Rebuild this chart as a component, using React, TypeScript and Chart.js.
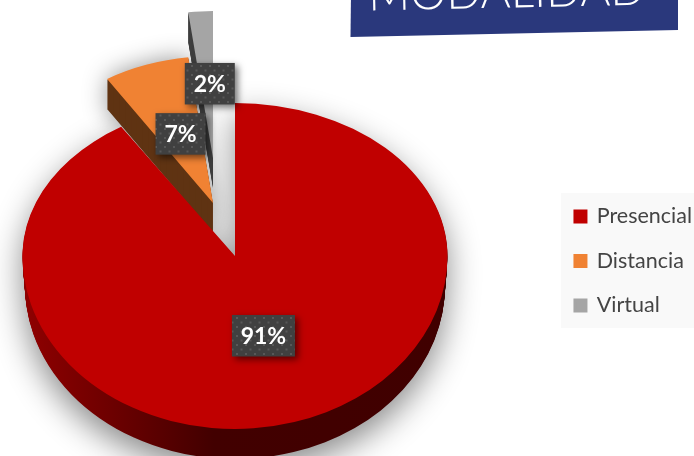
import React, { useEffect, useRef } from "react";
import { Chart, registerables } from "chart.js";

Chart.register(...registerables);

const TITLE = "MODALIDAD";
const categories = ["Presencial", "Distancia", "Virtual"];
const shares = [91, 7, 2];
const sliceColors = ["#C00000", "#F08233", "#A5A5A5"];
const wallColors = ["#400000", "#5F3312", "#3F3F3F"];

const FONT = "Lato, Carlito, sans-serif";
const CX = 235;
const CY = 256;
const RX = 212.5;
const SY_BACK = 0.72;
const SY_FRONT = 0.814;
const DEPTH = 30;
const FAR_X = 0.93;
const FAR_Y = 0.96;
const explode: [number, number][] = [[0, 0], [-22, -53], [-22, -98]];
const labelNudge: [number, number][] = [[0, 0], [1, 0], [3, -1]];

function paint(el: any, ctx: CanvasRenderingContext2D, color: any) {
  const o = el.options;
  el.options = { ...o, backgroundColor: color };
  el.draw(ctx);
  el.options = o;
}

function place(ctx: CanvasRenderingContext2D, el: any, x: number, y: number, sx: number, sy: number) {
  const k = RX / el.outerRadius;
  ctx.translate(x, y);
  ctx.scale(k * sx, k * sy);
  ctx.translate(-el.x, -el.y);
}

function drawRed(ctx: CanvasRenderingContext2D, el: any, d: number, color: (c: CanvasRenderingContext2D) => any) {
  const sx = 1 - (0.012 * d) / DEPTH;
  for (const back of [true, false]) {
    ctx.save();
    ctx.beginPath();
    if (back) ctx.rect(0, -50, 694, CY + d + 50);
    else ctx.rect(0, CY + d, 694, 456);
    ctx.clip();
    place(ctx, el, CX, CY + d, sx, back ? SY_BACK : SY_FRONT);
    paint(el, ctx, color(ctx));
    ctx.restore();
  }
}

function drawSlice(ctx: CanvasRenderingContext2D, el: any, i: number, d: number, color: any) {
  ctx.save();
  place(ctx, el, CX + explode[i][0], CY + explode[i][1] + d, FAR_X, SY_BACK * FAR_Y);
  paint(el, ctx, color);
  ctx.restore();
}

function redWall(el: any) {
  return (c: CanvasRenderingContext2D) => {
    const g = c.createLinearGradient(el.x - el.outerRadius, 0, el.x + el.outerRadius, 0);
    g.addColorStop(0, "#8F0000");
    g.addColorStop(0.2, "#6E0000");
    g.addColorStop(0.45, "#420000");
    g.addColorStop(1, wallColors[0]);
    return g;
  };
}

function dotPattern(ctx: CanvasRenderingContext2D) {
  const t = document.createElement("canvas");
  t.width = 9;
  t.height = 9;
  const c = t.getContext("2d")!;
  c.fillStyle = "#404040";
  c.fillRect(0, 0, 9, 9);
  c.fillStyle = "#585858";
  c.fillRect(2, 2, 2, 2);
  c.fillRect(6.5, 6.5, 2, 2);
  return ctx.createPattern(t, "repeat")!;
}

function castShadow(ctx: CanvasRenderingContext2D, draw: (c: CanvasRenderingContext2D) => void, blur: number, dy: number, alpha: number) {
  const off = document.createElement("canvas");
  off.width = 694;
  off.height = 456;
  draw(off.getContext("2d")!);
  ctx.save();
  ctx.shadowColor = `rgba(0,0,0,${alpha})`;
  ctx.shadowBlur = blur;
  ctx.shadowOffsetX = 2000;
  ctx.shadowOffsetY = dy;
  ctx.drawImage(off, -2000, 0);
  ctx.restore();
}

const scene = {
  id: "scene",
  beforeDraw(chart: any) {
    const ctx = chart.ctx;
    ctx.save();
    ctx.fillStyle = "#F9F9F9";
    ctx.fillRect(561, 193, 133, 135);
    ctx.restore();
  },
  beforeDatasetsDraw(chart: any) {
    const ctx: CanvasRenderingContext2D = chart.ctx;
    const arcs = chart.getDatasetMeta(0).data;

    castShadow(ctx, (oc) => {
      for (let d = DEPTH; d >= 0; d -= 2) drawSlice(oc, arcs[1], 1, d, "#000");
    }, 24, 0, 0.42);
    castShadow(ctx, (oc) => {
      for (let d = DEPTH; d >= 0; d -= 2) drawRed(oc, arcs[0], d, () => "#000");
    }, 32, 12, 0.46);

    for (const i of [2, 1]) {
      for (let d = DEPTH; d >= 1; d--) drawSlice(ctx, arcs[i], i, d, wallColors[i]);
      drawSlice(ctx, arcs[i], i, 0, sliceColors[i]);
    }
    for (let d = DEPTH; d >= 1; d--) drawRed(ctx, arcs[0], d, redWall(arcs[0]));
    drawRed(ctx, arcs[0], 0, () => sliceColors[0]);
    return false;
  },
  afterDraw(chart: any) {
    const ctx: CanvasRenderingContext2D = chart.ctx;
    const arcs = chart.getDatasetMeta(0).data;

    // banner
    ctx.save();
    ctx.fillStyle = "#2A387C";
    ctx.beginPath();
    ctx.moveTo(351, -5);
    ctx.lineTo(678, -5);
    ctx.lineTo(678, 30);
    ctx.lineTo(350.5, 37);
    ctx.closePath();
    ctx.fill();
    ctx.translate(507, 7.5);
    ctx.rotate((-1.2 * Math.PI) / 180);
    ctx.fillStyle = "#FFFFFF";
    ctx.font = `300 46px ${FONT}`;
    ctx.textAlign = "center";
    ctx.textBaseline = "alphabetic";
    ctx.fillText(TITLE, 0, 0);
    ctx.restore();

    // value labels
    const pat = dotPattern(ctx);
    [1, 2, 0].forEach((i) => {
      const el = arcs[i];
      const mid = (el.startAngle + el.endAngle) / 2;
      const frac = i === 0 ? 0.48 : 0.5;
      const sx = i === 0 ? 1 : FAR_X;
      const sy = i === 0 ? SY_FRONT : SY_BACK * FAR_Y;
      const x = CX + explode[i][0] + labelNudge[i][0] + Math.cos(mid) * RX * frac * sx;
      const y = CY + explode[i][1] + labelNudge[i][1] + Math.sin(mid) * RX * frac * sy;
      const text = `${shares[i]}%`;
      ctx.save();
      ctx.font = `bold 23px ${FONT}`;
      const w = i === 0 ? 63 : 50;
      const h = 41.5;
      ctx.shadowColor = "rgba(0,0,0,0.55)";
      ctx.shadowBlur = 7;
      ctx.shadowOffsetX = 3;
      ctx.shadowOffsetY = 3;
      ctx.fillStyle = pat;
      ctx.fillRect(x - w / 2, y - h / 2, w, h);
      ctx.shadowColor = "transparent";
      ctx.fillStyle = "#FFFFFF";
      ctx.textAlign = "center";
      ctx.textBaseline = "middle";
      ctx.fillText(text, x, y + 1);
      ctx.restore();
    });
  },
};

export default function App() {
  const ref = useRef<HTMLCanvasElement>(null);
  useEffect(() => {
    document.body.style.margin = "0";
    document.body.style.overflow = "hidden";
    const chart = new Chart(ref.current!, {
      type: "pie",
      data: {
        labels: categories,
        datasets: [{ data: shares, backgroundColor: sliceColors, borderWidth: 0 }],
      },
      plugins: [scene],
      options: {
        responsive: false,
        animation: false,
        devicePixelRatio: 1,
        layout: { padding: { top: 66, right: -8 } },
        plugins: {
          tooltip: { enabled: false },
          legend: {
            position: "right",
            align: "center",
            labels: {
              font: { family: FONT, size: 21.5 },
              color: "#444444",
              boxWidth: 11,
              boxHeight: 11,
              padding: 23,
              generateLabels: () =>
                categories.map((text, i) => ({
                  text,
                  fillStyle: sliceColors[i],
                  strokeStyle: sliceColors[i],
                  lineWidth: 3,
                  index: i,
                  fontColor: "#444444",
                })),
            },
          },
        },
      } as any,
    });
    return () => chart.destroy();
  }, []);
  return (
    <div style={{ position: "fixed", left: 0, top: 0, width: 694, height: 456 }}>
      <canvas ref={ref} width={694} height={456} style={{ display: "block" }} />
    </div>
  );
}
